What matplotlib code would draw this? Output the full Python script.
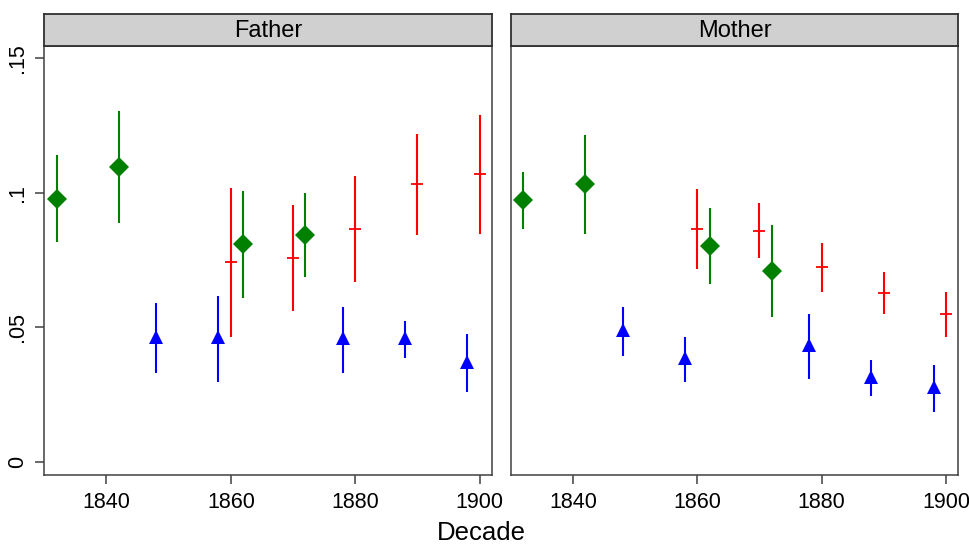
import numpy as np
import matplotlib.pyplot as plt

plt.rcParams['font.family'] = ['Liberation Sans', 'DejaVu Sans']

# 1) dữ liệu: hệ số ước lượng và khoảng tin cậy theo thập kỷ
green_x = [1832, 1842, 1862, 1872]
blue_x = [1848, 1858, 1878, 1888, 1898]
red_x = [1860, 1870, 1880, 1890, 1900]

father_green = [0.0977, 0.1094, 0.0808, 0.0842]
father_green_lo = [0.0818, 0.0887, 0.0607, 0.0688]
father_green_hi = [0.1139, 0.1303, 0.1007, 0.0998]

father_blue = [0.0464, 0.0464, 0.0459, 0.0460, 0.0371]
father_blue_lo = [0.0329, 0.0297, 0.0329, 0.0387, 0.0258]
father_blue_hi = [0.0589, 0.0617, 0.0576, 0.0524, 0.0474]

father_red = [0.0741, 0.0758, 0.0866, 0.1031, 0.1070]
father_red_lo = [0.0464, 0.0560, 0.0669, 0.0843, 0.0848]
father_red_hi = [0.1019, 0.0954, 0.1063, 0.1219, 0.1289]

mother_green = [0.0973, 0.1032, 0.0802, 0.0709]
mother_green_lo = [0.0865, 0.0848, 0.0661, 0.0539]
mother_green_hi = [0.1077, 0.1216, 0.0942, 0.0879]

mother_blue = [0.0490, 0.0386, 0.0433, 0.0316, 0.0277]
mother_blue_lo = [0.0393, 0.0297, 0.0306, 0.0244, 0.0186]
mother_blue_hi = [0.0576, 0.0464, 0.0550, 0.0378, 0.0358]

mother_red = [0.0864, 0.0859, 0.0723, 0.0627, 0.0548]
mother_red_lo = [0.0715, 0.0757, 0.0631, 0.0548, 0.0464]
mother_red_hi = [0.1015, 0.0961, 0.0814, 0.0705, 0.0630]

panels = ["Father", "Mother"]
xticks = [1840, 1860, 1880, 1900]
yticks = [0, 0.05, 0.1, 0.15]
ytick_labels = ["0", ".05", ".1", ".15"]

edge = '#404040'


def draw_series(ax, x, y, lo, hi, color, marker, ms, mew=0):
    y = np.array(y)
    err = [y - np.array(lo), np.array(hi) - y]
    ax.errorbar(x, y, yerr=err, fmt='none', ecolor=color, elinewidth=1.5, capsize=0)
    ax.plot(x, y, linestyle='none', marker=marker, color=color, markersize=ms,
            markeredgewidth=mew)


# 2) vẽ hai panel
fig = plt.figure(figsize=(9.69, 5.45), dpi=100)
lefts = [44.3 / 969, 510.7 / 969]
width = 447.7 / 969
bottom = 1 - 475 / 545
height = (475 - 45.7) / 545

data = {
    "Father": [(green_x, father_green, father_green_lo, father_green_hi),
               (blue_x, father_blue, father_blue_lo, father_blue_hi),
               (red_x, father_red, father_red_lo, father_red_hi)],
    "Mother": [(green_x, mother_green, mother_green_lo, mother_green_hi),
               (blue_x, mother_blue, mother_blue_lo, mother_blue_hi),
               (red_x, mother_red, mother_red_lo, mother_red_hi)],
}

for i, name in enumerate(panels):
    ax = fig.add_axes([lefts[i], bottom, width, height])
    g, b, r = data[name]
    draw_series(ax, *g, color='#008000', marker='D', ms=10)
    draw_series(ax, *b, color='#0000FF', marker='^', ms=10.5)
    draw_series(ax, *r, color='#FF0000', marker='+', ms=8.5, mew=1.3)

    ax.set_xlim(1830, 1902)
    ax.set_ylim(-0.005, 0.1547)
    ax.set_xticks(xticks)
    ax.set_xticklabels([str(t) for t in xticks], fontsize=15.5)
    ax.tick_params(axis='x', length=6.5, width=1.1, color=edge, pad=6)
    if i == 0:
        ax.set_yticks(yticks)
        ax.set_yticklabels(ytick_labels, fontsize=15.5, rotation=90, va='center')
        ax.tick_params(axis='y', length=6.5, width=1.1, color=edge, pad=5)
    else:
        ax.set_yticks([])
    for s in ax.spines.values():
        s.set_color(edge)
        s.set_linewidth(1.1)

    # dải tiêu đề màu xám phía trên mỗi panel
    strip = fig.add_axes([lefts[i], 1 - 45.7 / 545, width, 31.7 / 545])
    strip.set_facecolor('#D0D0D0')
    strip.set_xticks([])
    strip.set_yticks([])
    for s in strip.spines.values():
        s.set_color('#303030')
        s.set_linewidth(1.3)
    strip.text(0.5, 0.45, name, ha='center', va='center', fontsize=17,
               transform=strip.transAxes)

fig.text(481 / 969, 1 - 533 / 545, "Decade", ha='center', va='center', fontsize=18.5)

plt.savefig("out.png", dpi=100)
